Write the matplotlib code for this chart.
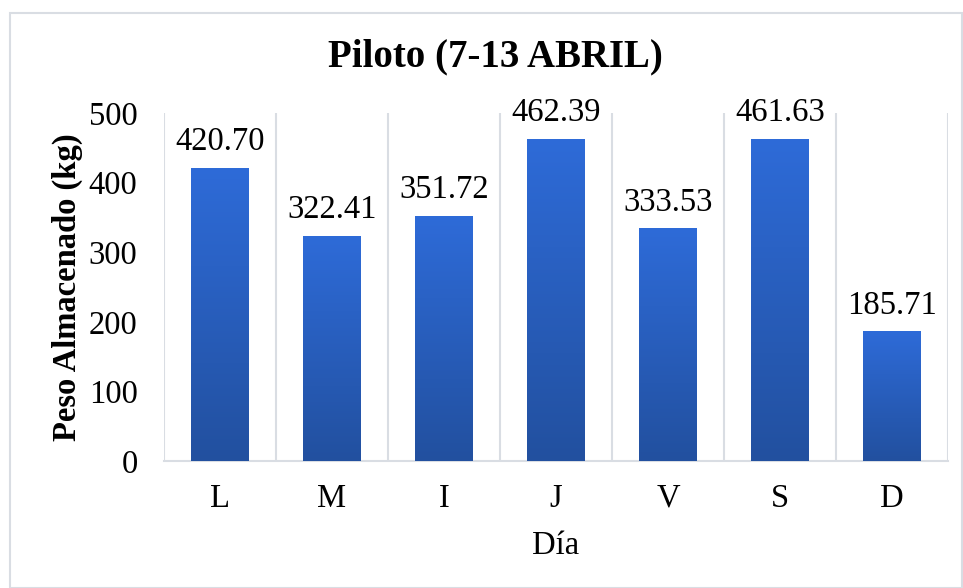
import numpy as np
import matplotlib.pyplot as plt
from matplotlib.colors import LinearSegmentedColormap
from matplotlib.patches import Rectangle

# data
dias = ["L", "M", "I", "J", "V", "S", "D"]
peso = [420.70, 322.41, 351.72, 462.39, 333.53, 461.63, 185.71]

plt.rcParams["font.family"] = ["Liberation Serif", "DejaVu Serif"]

fig = plt.figure(figsize=(9.63, 5.88), dpi=100)
ax = fig.add_axes([0.1703, 0.216, 0.8141, 0.592])

# outer chart frame
fig.patches.append(Rectangle((10 / 963, 0), 952 / 963, 1 - 13 / 588,
                             transform=fig.transFigure, fill=False,
                             edgecolor="#d9dde3", lw=1.5))

grad = LinearSegmentedColormap.from_list("g", ["#22509f", "#2e6bd8"])
g = np.linspace(0, 1, 256).reshape(-1, 1)

x = np.arange(len(dias))
w = 0.51
for xi, v in zip(x, peso):
    ax.imshow(g, cmap=grad, origin="lower", aspect="auto",
              extent=[xi - w / 2, xi + w / 2, 0, v], zorder=3)
    ax.annotate(f"{v:.2f}", (xi, v), xytext=(0, 8), textcoords="offset points",
                ha="center", va="bottom", fontsize=23.5)

ax.set_xlim(-0.5, len(dias) - 0.5)
ax.set_ylim(0, 500)
ax.set_xticks(x)
ax.set_xticklabels(dias)
ax.set_yticks(range(0, 501, 100))

# vertical gridlines at category boundaries
for b in np.arange(-0.5, len(dias), 1):
    ax.axvline(b, color="#d9dde3", lw=1.5, zorder=1)

for s in ["top", "right", "left"]:
    ax.spines[s].set_visible(False)
ax.spines["bottom"].set_color("#d9dde3")
ax.spines["bottom"].set_linewidth(1.5)
ax.tick_params(axis="both", length=0, labelsize=23.5)
ax.tick_params(axis="x", pad=16)
ax.tick_params(axis="y", pad=19)

fig.text(0.514, 0.903, "Piloto (7-13 ABRIL)", fontsize=28, fontweight="bold",
         ha="center", va="center")
ax.set_xlabel("Día", fontsize=23.5, labelpad=12)
ax.set_ylabel("Peso Almacenado (kg)", fontsize=23.5, fontweight="bold", labelpad=4)

fig.savefig("out.png", dpi=100)
